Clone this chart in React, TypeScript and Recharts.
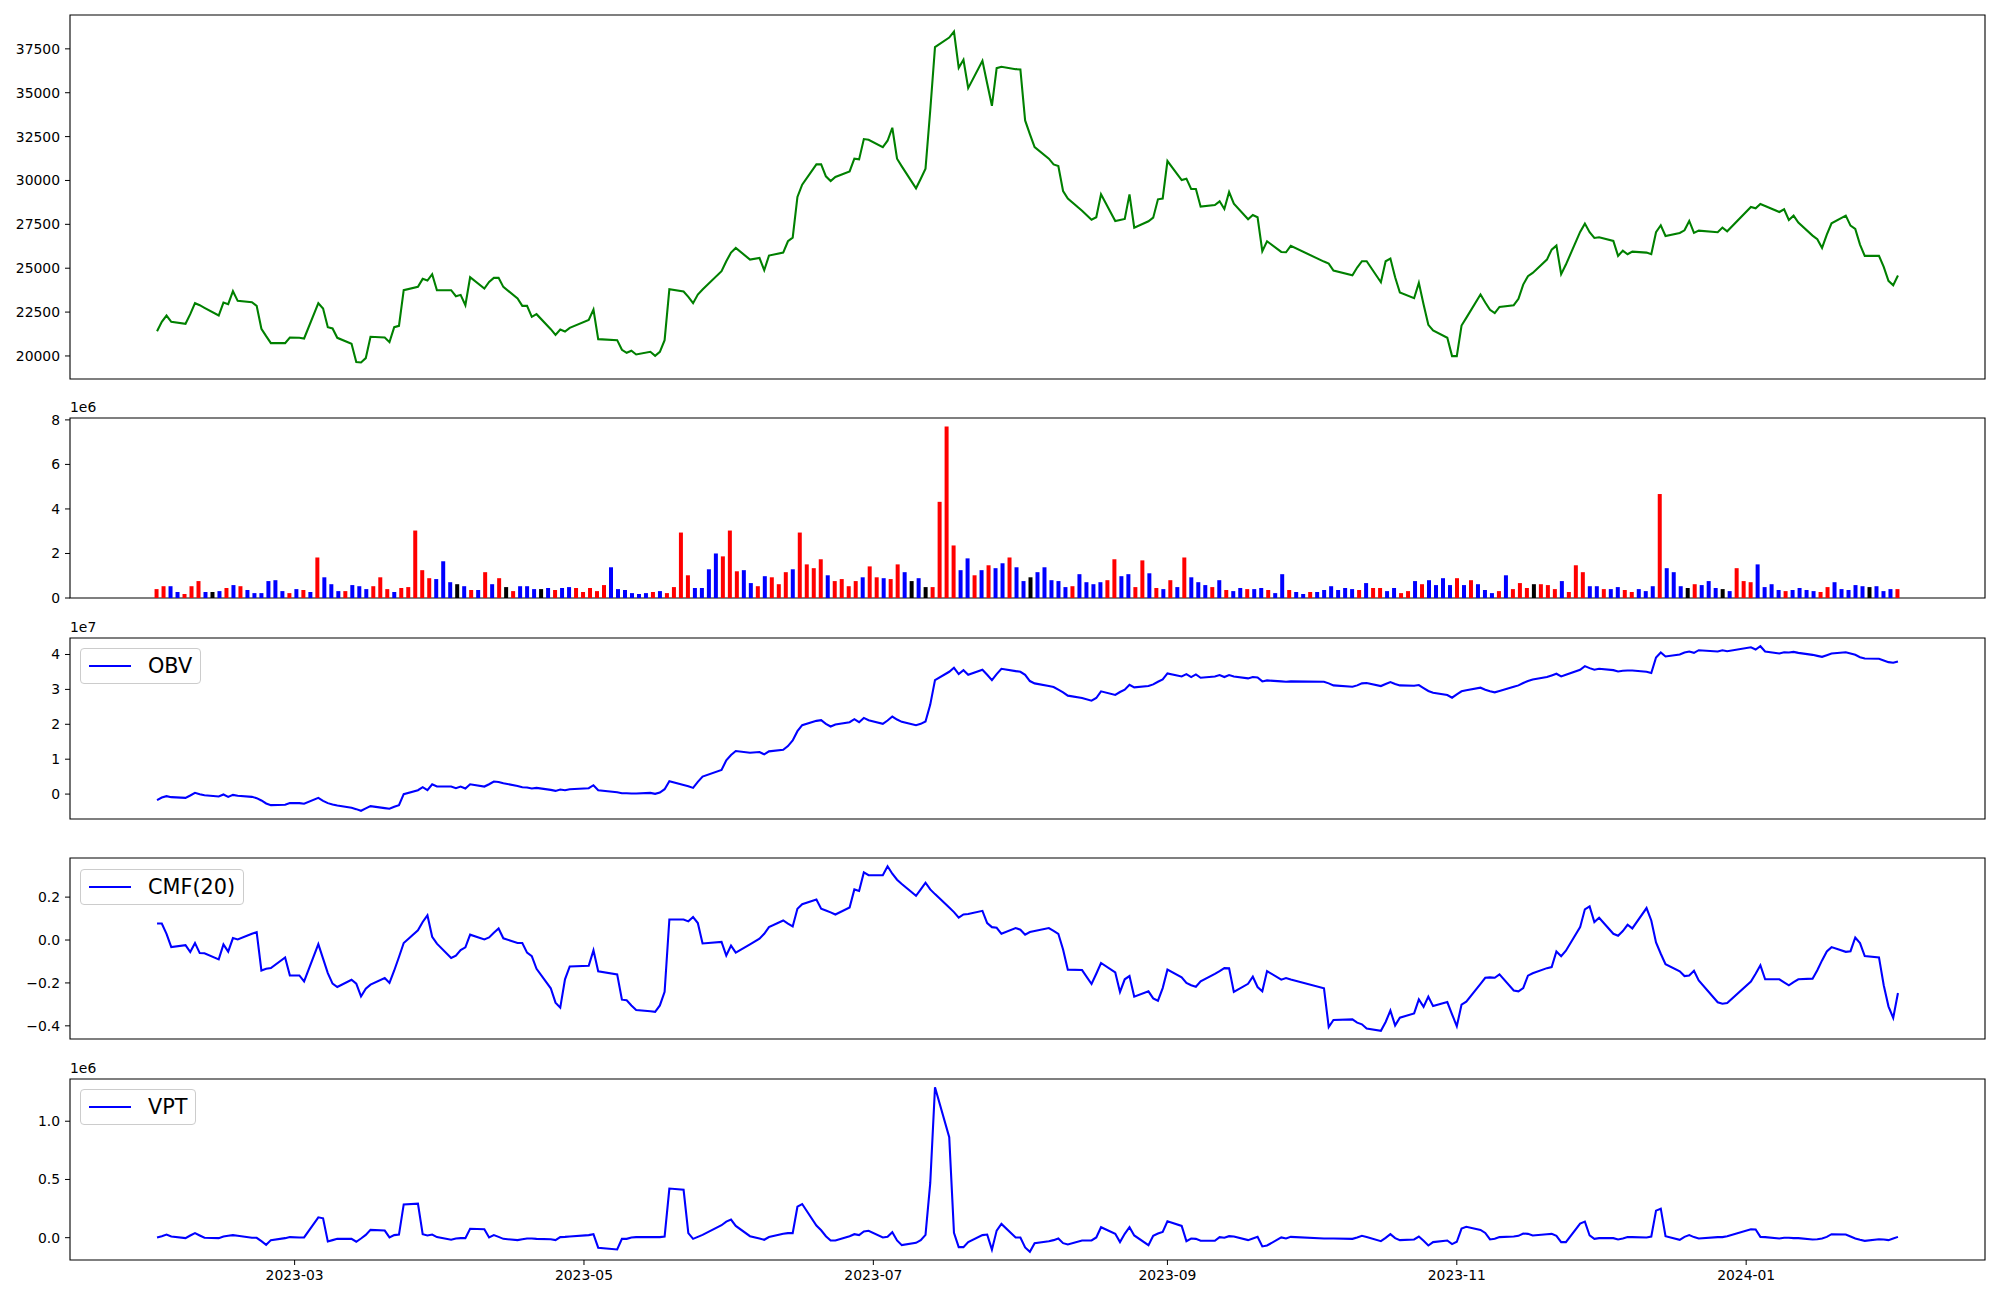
import React from 'react';
import { ComposedChart, Line, Bar, Cell, XAxis, YAxis, ReferenceArea } from 'recharts';

// KRX closed days inside the window (weekends are skipped separately)
const HOLIDAYS = [
  '2023-03-01', '2023-05-01', '2023-05-05', '2023-05-29', '2023-06-06', '2023-08-15',
  '2023-09-28', '2023-09-29', '2023-10-02', '2023-10-03', '2023-10-09',
  '2023-12-25', '2023-12-29', '2024-01-01',
];
const FIRST_DAY = '2023-01-31';
const LAST_DAY = '2024-02-02';
const X_TICK_DATES = ['2023-03-01', '2023-05-01', '2023-07-01', '2023-09-01', '2023-11-01', '2024-01-01'];

// one value per trading day, grouped by week
const PRICE = [
  21413, 21945, 22305, 21945,
  21831, 22381, 23007, 22893, 22741,
  22305, 23045, 22950, 23690, 23140,
  23064, 22855, 21547, 21129, 20731,
  20731, 21053, 21034, 20996,
  23007, 22703, 21641, 21565, 21034,
  20693, 19650, 19630, 19877, 21091,
  21053, 20788, 21641, 21717, 23747,
  23937, 24392, 24297, 24657, 23747,
  23747, 23405, 23481, 22893, 24487,
  23842, 24222, 24449, 24449, 23937,
  23272, 22855, 22855, 22229, 22381,
  21527, 21204, 21508, 21394, 21603,
  22058, 22647, 20958,
  20901, 20351, 20181, 20294, 20085,
  20237, 20009, 20237, 20901, 23804,
  23671, 23367, 23007, 23500, 23785,
  24828, 25397, 25890, 26156,
  25492, 25587, 24885, 25720,
  25890, 26535, 26744, 29058, 29760,
  30917, 30917, 30234, 29969, 30196,
  30519, 31240, 31202, 32359, 32321,
  31904, 32264, 33004, 31240, 30804,
  29552, 30102, 30671, 34000, 37595,
  38145, 38486, 36419, 36874, 35262,
  36817, 35527, 34256, 36400, 36476,
  36343, 36324, 33421, 32644, 31904,
  31240, 30917, 30823, 29400, 28964,
  28280, 27768, 27901, 29210,
  27692, 27749, 27806, 29210, 27313,
  27673, 27882, 28925, 28964, 31107,
  30026, 30102, 29514, 29514, 28508,
  28603, 28812, 28375, 29343, 28679,
  27787, 28034, 27901, 25966, 26535,
  25928, 25909, 26270,
  25378, 25264, 24866,
  24600, 25037, 25397, 25397,
  24202, 25397, 25549, 24487, 23614,
  23292, 24164, 22931, 21774, 21451,
  21034, 19991, 19991, 21736, 22172,
  23500, 23045, 22628, 22438, 22798,
  22893, 23253, 24069, 24543, 24733,
  25492, 26061, 26289, 24657, 25207,
  27067, 27541, 27048, 26725, 26763,
  26555, 25701, 26004, 25796, 25947,
  25890, 25796, 27048, 27446, 26839,
  27010, 27161, 27693, 27010, 27142,
  27048, 27313, 27104,
  28489, 28413, 28660, 28546,
  28204, 28356, 27749, 27996, 27598,
  26858, 26649, 26156, 26915, 27560,
  27996, 27427, 27237, 26345, 25701,
  25701, 25075, 24278, 24032, 24582,
];

// volume in millions, ten bars per row
const VOLUME_M = [
  0.40, 0.53, 0.53, 0.27, 0.18, 0.53, 0.76, 0.27, 0.27, 0.31,
  0.45, 0.58, 0.53, 0.36, 0.22, 0.22, 0.76, 0.80, 0.31, 0.22,
  0.40, 0.36, 0.27, 1.82, 0.93, 0.62, 0.31, 0.31, 0.58, 0.53,
  0.40, 0.53, 0.93, 0.40, 0.27, 0.45, 0.49, 3.03, 1.25, 0.89,
  0.85, 1.65, 0.71, 0.62, 0.53, 0.36, 0.36, 1.16, 0.62, 0.89,
  0.49, 0.31, 0.53, 0.53, 0.40, 0.40, 0.45, 0.36, 0.45, 0.49,
  0.45, 0.27, 0.45, 0.31, 0.58, 1.38, 0.40, 0.36, 0.22, 0.18,
  0.22, 0.27, 0.31, 0.22, 0.49, 2.94, 1.02, 0.45, 0.45, 1.29,
  2.00, 1.87, 3.03, 1.20, 1.25, 0.67, 0.53, 0.98, 0.93, 0.62,
  1.16, 1.29, 2.94, 1.51, 1.34, 1.74, 1.02, 0.76, 0.85, 0.53,
  0.76, 0.93, 1.42, 0.93, 0.89, 0.85, 1.51, 1.16, 0.76, 0.89,
  0.49, 0.49, 4.32, 7.70, 2.36, 1.25, 1.78, 1.02, 1.25, 1.47,
  1.34, 1.56, 1.82, 1.38, 0.76, 0.93, 1.16, 1.38, 0.80, 0.76,
  0.49, 0.53, 1.07, 0.71, 0.62, 0.71, 0.80, 1.74, 0.98, 1.07,
  0.49, 1.69, 1.11, 0.45, 0.40, 0.80, 0.49, 1.82, 0.93, 0.71,
  0.58, 0.49, 0.80, 0.36, 0.31, 0.45, 0.40, 0.40, 0.45, 0.36,
  0.22, 1.07, 0.36, 0.27, 0.18, 0.27, 0.27, 0.36, 0.53, 0.36,
  0.45, 0.40, 0.36, 0.67, 0.45, 0.45, 0.31, 0.45, 0.22, 0.31,
  0.76, 0.62, 0.80, 0.58, 0.89, 0.58, 0.89, 0.58, 0.80, 0.62,
  0.36, 0.22, 0.31, 1.02, 0.40, 0.67, 0.45, 0.62, 0.62, 0.58,
  0.40, 0.76, 0.27, 1.47, 1.16, 0.53, 0.53, 0.40, 0.40, 0.49,
  0.36, 0.27, 0.40, 0.31, 0.53, 4.67, 1.34, 1.16, 0.53, 0.45,
  0.62, 0.58, 0.76, 0.45, 0.40, 0.31, 1.34, 0.76, 0.71, 1.51,
  0.49, 0.62, 0.36, 0.31, 0.36, 0.45, 0.36, 0.31, 0.27, 0.49,
  0.71, 0.40, 0.36, 0.58, 0.53, 0.49, 0.53, 0.31, 0.40, 0.40,
];

// r = up day, b = down day, k = unchanged
const VOLUME_DIR =
  'rrbbrrrbkb' + 'rbrbbbbbbr' + 'brbrbbbrbb' + 'brrrbrrrrr' + 'bbbkbrbrbr' +
  'krbbbkbrbb' + 'rrrrrbbbbb' + 'brbrrrrbbb' + 'brrrbbrbrr' + 'rbrrrrbrrr' +
  'rbrrbrrbkb' + 'krrrrbbrbr' + 'bbrbbkbbbb' + 'brbbbbrrbb' + 'rrbrbrbrbb' +
  'brbrbbrbbr' + 'bbrbbrbbbb' + 'bbrbrrbbrr' + 'brbbbbrbrb' + 'bbrbrrrkrr' +
  'rbrrrbbrbb' + 'rrbbbrbbbk' + 'rbbbkbrrrb' + 'bbbrbbbbrr' + 'bbbbbkbbbr';

const OBV_E7 = [
  -0.174, -0.098, -0.060, -0.088,
  -0.107, -0.041, 0.035, -0.003, -0.031,
  -0.069, -0.012, -0.079, -0.022, -0.050,
  -0.079, -0.117, -0.183, -0.269, -0.316,
  -0.307, -0.259, -0.259, -0.278,
  -0.107, -0.193, -0.259, -0.297, -0.326,
  -0.393, -0.431, -0.478, -0.411, -0.345,
  -0.402, -0.421, -0.364, -0.316, -0.003,
  0.111, 0.197, 0.111, 0.282, 0.216,
  0.216, 0.168, 0.216, 0.159, 0.282,
  0.216, 0.282, 0.359, 0.349, 0.311,
  0.235, 0.197, 0.188, 0.159, 0.178,
  0.121, 0.092, 0.130, 0.111, 0.140,
  0.168, 0.254, 0.111,
  0.054, 0.026, 0.026, 0.016, 0.016,
  0.035, 0.007, 0.045, 0.140, 0.368,
  0.263, 0.225, 0.178, 0.349, 0.501,
  0.691, 0.967, 1.119, 1.233,
  1.186, 1.205, 1.138, 1.224,
  1.271, 1.376, 1.537, 1.803, 1.975,
  2.098, 2.117, 2.013, 1.937, 1.994,
  2.060, 2.146, 2.060, 2.184, 2.117,
  2.013, 2.108, 2.222, 2.136, 2.070,
  1.975, 2.013, 2.079, 2.564, 3.267,
  3.505, 3.619, 3.438, 3.552, 3.419,
  3.562, 3.419, 3.267, 3.438, 3.590,
  3.524, 3.505, 3.419, 3.239, 3.172,
  3.096, 3.068, 2.992, 2.916, 2.821,
  2.754, 2.678, 2.754, 2.944,
  2.840, 2.925, 2.992, 3.134, 3.058,
  3.096, 3.144, 3.220, 3.286, 3.457,
  3.372, 3.438, 3.353, 3.429, 3.334,
  3.372, 3.410, 3.353, 3.410, 3.372,
  3.315, 3.353, 3.343, 3.229, 3.258,
  3.229, 3.220, 3.229,
  3.220, 3.172, 3.115,
  3.077, 3.115, 3.172, 3.182,
  3.096, 3.153, 3.210, 3.153, 3.115,
  3.106, 3.125, 3.039, 2.954, 2.906,
  2.840, 2.763, 2.859, 2.944, 2.973,
  3.049, 2.992, 2.944, 2.916, 2.954,
  3.077, 3.115, 3.182, 3.239, 3.286,
  3.353, 3.400, 3.448, 3.372, 3.419,
  3.562, 3.667, 3.609, 3.562, 3.590,
  3.552, 3.514, 3.533, 3.543, 3.543,
  3.505, 3.467, 3.914, 4.056, 3.942,
  3.999, 4.056, 4.085, 4.047, 4.123,
  4.085, 4.123, 4.094,
  4.208, 4.142, 4.237, 4.085,
  4.028, 4.066, 4.056, 4.075, 4.047,
  3.990, 3.961, 3.933, 3.980, 4.028,
  4.066, 4.028, 3.990, 3.923, 3.885,
  3.876, 3.828, 3.781, 3.762, 3.800,
];

const CMF = [
  0.077, 0.077, 0.029, -0.033,
  -0.024, -0.056, -0.014, -0.061, -0.062,
  -0.090, -0.020, -0.054, 0.009, 0.003,
  0.029, 0.037, -0.142, -0.134, -0.131,
  -0.081, -0.165, -0.165, -0.193,
  -0.019, -0.087, -0.154, -0.203, -0.219,
  -0.185, -0.203, -0.263, -0.227, -0.208,
  -0.177, -0.200, -0.142, -0.079, -0.014,
  0.045, 0.084, 0.115, 0.015, -0.017,
  -0.084, -0.073, -0.047, -0.034, 0.025,
  0.003, 0.012, 0.034, 0.054, 0.008,
  -0.014, -0.014, -0.059, -0.075, -0.134,
  -0.225, -0.292, -0.315, -0.183, -0.123,
  -0.120, -0.048, -0.146,
  -0.160, -0.278, -0.281, -0.305, -0.326,
  -0.332, -0.335, -0.305, -0.241, 0.096,
  0.096, 0.087, 0.107, 0.079, -0.016,
  -0.009, -0.072, -0.026, -0.059,
  -0.020, 0.006, 0.029, 0.060,
  0.091, 0.076, 0.063, 0.146, 0.167,
  0.189, 0.146, 0.138, 0.129, 0.119,
  0.152, 0.236, 0.229, 0.315, 0.302,
  0.302, 0.344, 0.309, 0.281, 0.261,
  0.206, 0.236, 0.267, 0.236, 0.214,
  0.152, 0.130, 0.104, 0.119, 0.121,
  0.136, 0.079, 0.060, 0.057, 0.029,
  0.056, 0.048, 0.025, 0.037, 0.042,
  0.056, 0.043, 0.029, -0.044, -0.138,
  -0.140, -0.205, -0.157, -0.107,
  -0.151, -0.242, -0.183, -0.168, -0.264,
  -0.239, -0.272, -0.283, -0.224, -0.138,
  -0.174, -0.200, -0.211, -0.218, -0.193,
  -0.158, -0.145, -0.131, -0.132, -0.242,
  -0.204, -0.171, -0.219, -0.239, -0.145,
  -0.185, -0.177, -0.184,
  -0.225, -0.406, -0.373,
  -0.370, -0.385, -0.393, -0.413,
  -0.423, -0.382, -0.329, -0.398, -0.362,
  -0.342, -0.277, -0.311, -0.264, -0.308,
  -0.289, -0.346, -0.402, -0.301, -0.287,
  -0.204, -0.176, -0.174, -0.176, -0.160,
  -0.235, -0.239, -0.224, -0.166, -0.155,
  -0.131, -0.126, -0.053, -0.075, -0.050,
  0.060, 0.143, 0.157, 0.084, 0.104,
  0.029, 0.020, 0.042, 0.071, 0.054,
  0.149, 0.091, -0.011, -0.064, -0.113,
  -0.146, -0.168, -0.165, -0.143, -0.188,
  -0.290, -0.297, -0.294,
  -0.194, -0.157, -0.118, -0.183,
  -0.183, -0.197, -0.211, -0.196, -0.183,
  -0.180, -0.141, -0.095, -0.053, -0.033,
  -0.055, -0.052, 0.012, -0.014, -0.075,
  -0.081, -0.211, -0.309, -0.363, -0.247,
];

const VPT_E6 = [
  0.002, 0.013, 0.027, 0.010,
  -0.004, 0.019, 0.039, 0.019, -0.001,
  -0.004, 0.010, 0.016, 0.022, 0.016,
  -0.001, -0.001, -0.030, -0.061, -0.021,
  -0.004, 0.005, 0.002, 0.002,
  0.175, 0.166, -0.032, -0.021, -0.010,
  -0.010, -0.035, -0.007, 0.024, 0.067,
  0.061, 0.002, 0.022, 0.027, 0.286,
  0.292, 0.030, 0.019, 0.027, 0.005,
  -0.018, -0.007, -0.004, -0.004, 0.076,
  0.073, 0.002, 0.022, 0.007, -0.010,
  -0.021, -0.013, -0.007, -0.007, -0.010,
  -0.013, -0.021, 0.005, 0.007, 0.010,
  0.022, 0.030, -0.086,
  -0.101, -0.010, -0.010, 0.002, 0.005,
  0.005, 0.005, 0.005, 0.010, 0.422,
  0.411, 0.039, -0.010, 0.007, 0.024,
  0.107, 0.138, 0.155, 0.101,
  0.013, -0.007, -0.018, 0.005,
  0.033, 0.039, 0.039, 0.266, 0.289,
  0.104, 0.064, 0.013, -0.024, -0.024,
  0.013, 0.030, 0.022, 0.053, 0.059,
  0.002, 0.007, 0.047, -0.024, -0.064,
  -0.044, -0.021, 0.024, 0.470, 1.292,
  0.863, 0.041, -0.081, -0.081, -0.038,
  0.022, 0.027, -0.103, 0.061, 0.118,
  0.002, 0.002, -0.084, -0.121, -0.047,
  -0.030, -0.021, -0.007, -0.047, -0.058,
  -0.024, -0.024, 0.002, 0.090,
  0.033, -0.038, 0.033, 0.090, 0.019,
  -0.064, 0.016, 0.036, 0.050, 0.141,
  0.101, -0.030, -0.007, -0.010, -0.027,
  -0.027, 0.005, -0.001, 0.013, 0.010,
  -0.021, -0.007, 0.007, -0.075, -0.067,
  0.002, -0.007, 0.007,
  -0.007, -0.007, -0.007,
  -0.010, 0.002, 0.016, 0.005,
  -0.030, -0.001, 0.030, -0.004, -0.021,
  -0.015, 0.010, -0.027, -0.067, -0.038,
  -0.024, -0.055, -0.035, 0.078, 0.093,
  0.067, 0.041, -0.015, -0.010, 0.005,
  0.010, 0.016, 0.036, 0.033, 0.019,
  0.030, 0.033, 0.016, -0.038, -0.038,
  0.121, 0.138, 0.019, -0.010, -0.004,
  -0.004, -0.015, -0.007, 0.005, 0.005,
  0.002, 0.010, 0.232, 0.249, 0.013,
  -0.018, 0.007, 0.022, 0.005, -0.007,
  0.005, 0.005, 0.013,
  0.073, 0.070, 0.007, 0.005,
  -0.007, -0.001, -0.001, -0.004, -0.004,
  -0.015, -0.013, -0.007, 0.007, 0.030,
  0.027, 0.010, -0.007, -0.018, -0.027,
  -0.013, -0.015, -0.021, -0.007, 0.007,
];

const DAY_MS = 86400000;
const T0 = Date.UTC(2023, 1, 1);
const toT = (iso: string) => (Date.parse(iso + 'T00:00:00Z') - T0) / DAY_MS;

const tradingDays = () => {
  const out: string[] = [];
  for (let ms = Date.parse(FIRST_DAY + 'T00:00:00Z'); ms <= Date.parse(LAST_DAY + 'T00:00:00Z'); ms += DAY_MS) {
    const d = new Date(ms);
    const iso = d.toISOString().slice(0, 10);
    const wd = d.getUTCDay();
    if (wd === 0 || wd === 6 || HOLIDAYS.includes(iso)) continue;
    out.push(iso);
  }
  return out;
};

const DAYS = tradingDays();
const lineRows = DAYS.map((iso, i) => ({
  t: toT(iso),
  price: PRICE[i],
  obv: OBV_E7[i],
  cmf: CMF[i],
  vpt: VPT_E6[i],
}));

// volume bars are spread evenly between the first and last session
const tStart = lineRows[0].t;
const tEnd = lineRows[lineRows.length - 1].t;
const barRows = VOLUME_M.map((v, i) => ({
  t: tStart + (i * (tEnd - tStart)) / (VOLUME_M.length - 1),
  vol: v,
  dir: VOLUME_DIR[i],
}));

const pad = (tEnd - tStart) * 0.05;
const X_DOMAIN: [number, number] = [tStart - pad, tEnd + pad];
const X_TICKS = X_TICK_DATES.map(toT);

const padded = (vals: number[]): [number, number] => {
  const lo = Math.min(...vals);
  const hi = Math.max(...vals);
  const p = (hi - lo) * 0.05;
  return [lo - p, hi + p];
};

const FONT = '"DejaVu Sans", sans-serif';
const W = 2000;
const PLOT_LEFT = 70;
const PLOT_RIGHT = 1985;
const YW = 60;
const BAR_COLORS: Record<string, string> = { r: '#ff0000', b: '#0000ff', k: '#000000' };
const tickStyle = { fill: '#000', fontSize: 13.9, fontFamily: FONT };
const minus = (v: number, digits: number) => (v < 0 ? '\u2212' : '') + Math.abs(v).toFixed(digits);

type PanelProps = {
  top: number;
  height: number;
  data: any[];
  yDomain: [number, number];
  yTicks: number[];
  yFmt: (v: number) => string;
  dates?: boolean;
  children: React.ReactNode;
};

const Panel = ({ top, height, data, yDomain, yTicks, yFmt, dates, children }: PanelProps) => {
  const axisH = dates ? 30 : 8;
  return (
    <div style={{ position: 'absolute', left: 0, top: top - 10 }}>
      <ComposedChart
        width={W}
        height={height + 10 + axisH}
        data={data}
        margin={{ top: 10, right: W - PLOT_RIGHT, bottom: 0, left: PLOT_LEFT - YW }}
      >
        <XAxis
          type="number"
          dataKey="t"
          domain={X_DOMAIN}
          allowDataOverflow
          ticks={X_TICKS}
          tickFormatter={(t: number) => X_TICK_DATES[X_TICKS.indexOf(t)].slice(0, 7)}
          height={axisH}
          tick={dates ? tickStyle : false}
          tickSize={5}
          tickMargin={5}
          axisLine={false}
          stroke="#000"
          interval={0}
        />
        <YAxis
          type="number"
          domain={yDomain}
          allowDataOverflow
          ticks={yTicks}
          tickFormatter={yFmt}
          width={YW}
          tick={tickStyle}
          tickSize={5}
          tickMargin={5}
          axisLine={false}
          stroke="#000"
          interval={0}
        />
        {children}
        <ReferenceArea
          x1={X_DOMAIN[0]}
          x2={X_DOMAIN[1]}
          y1={yDomain[0]}
          y2={yDomain[1]}
          fill="none"
          stroke="#000"
          strokeWidth={1.1}
          ifOverflow="visible"
        />
      </ComposedChart>
    </div>
  );
};

const LegendBox = ({ top, label }: { top: number; label: string }) => (
  <div
    style={{
      position: 'absolute',
      left: 80,
      top,
      height: 36,
      boxSizing: 'border-box',
      border: '1px solid #cccccc',
      borderRadius: 4,
      background: 'rgba(255,255,255,0.8)',
      display: 'flex',
      alignItems: 'center',
      padding: '0 8px',
      fontFamily: FONT,
      fontSize: 20.8,
      color: '#000',
    }}
  >
    <span style={{ display: 'inline-block', width: 42, height: 2, background: '#0000ff', marginRight: 17 }} />
    <span>{label}</span>
  </div>
);

const OffsetText = ({ top, text }: { top: number; text: string }) => (
  <div style={{ position: 'absolute', left: PLOT_LEFT, top, fontFamily: FONT, fontSize: 13.9, lineHeight: 1, color: '#000' }}>
    {text}
  </div>
);

const App = () => {
  const volMax = Math.max(...VOLUME_M) * 1.05;
  return (
    <div style={{ position: 'absolute', left: 0, top: 0, width: W, height: 1300, background: '#fff' }}>
      <Panel
        top={15}
        height={364}
        data={lineRows}
        yDomain={padded(PRICE)}
        yTicks={[20000, 22500, 25000, 27500, 30000, 32500, 35000, 37500]}
        yFmt={(v) => String(v)}
      >
        <Line type="linear" dataKey="price" stroke="#008000" strokeWidth={2.08} dot={false} isAnimationActive={false} />
      </Panel>

      <Panel top={418} height={180} data={barRows} yDomain={[0, volMax]} yTicks={[0, 2, 4, 6, 8]} yFmt={(v) => String(v)}>
        <Bar dataKey="vol" barSize={4} isAnimationActive={false}>
          {barRows.map((r, i) => (
            <Cell key={i} fill={BAR_COLORS[r.dir]} />
          ))}
        </Bar>
      </Panel>
      <OffsetText top={401} text="1e6" />

      <Panel top={638} height={181} data={lineRows} yDomain={padded(OBV_E7)} yTicks={[0, 1, 2, 3, 4]} yFmt={(v) => String(v)}>
        <Line type="linear" dataKey="obv" stroke="#0000ff" strokeWidth={2.08} dot={false} isAnimationActive={false} />
      </Panel>
      <OffsetText top={621} text="1e7" />
      <LegendBox top={648} label="OBV" />

      <Panel top={858} height={181} data={lineRows} yDomain={padded(CMF)} yTicks={[-0.4, -0.2, 0, 0.2]} yFmt={(v) => minus(v, 1)}>
        <Line type="linear" dataKey="cmf" stroke="#0000ff" strokeWidth={2.08} dot={false} isAnimationActive={false} />
      </Panel>
      <LegendBox top={869} label="CMF(20)" />

      <Panel
        top={1079}
        height={181}
        data={lineRows}
        yDomain={padded(VPT_E6)}
        yTicks={[0, 0.5, 1]}
        yFmt={(v) => v.toFixed(1)}
        dates
      >
        <Line type="linear" dataKey="vpt" stroke="#0000ff" strokeWidth={2.08} dot={false} isAnimationActive={false} />
      </Panel>
      <OffsetText top={1062} text="1e6" />
      <LegendBox top={1089} label="VPT" />
    </div>
  );
};

export default App;
